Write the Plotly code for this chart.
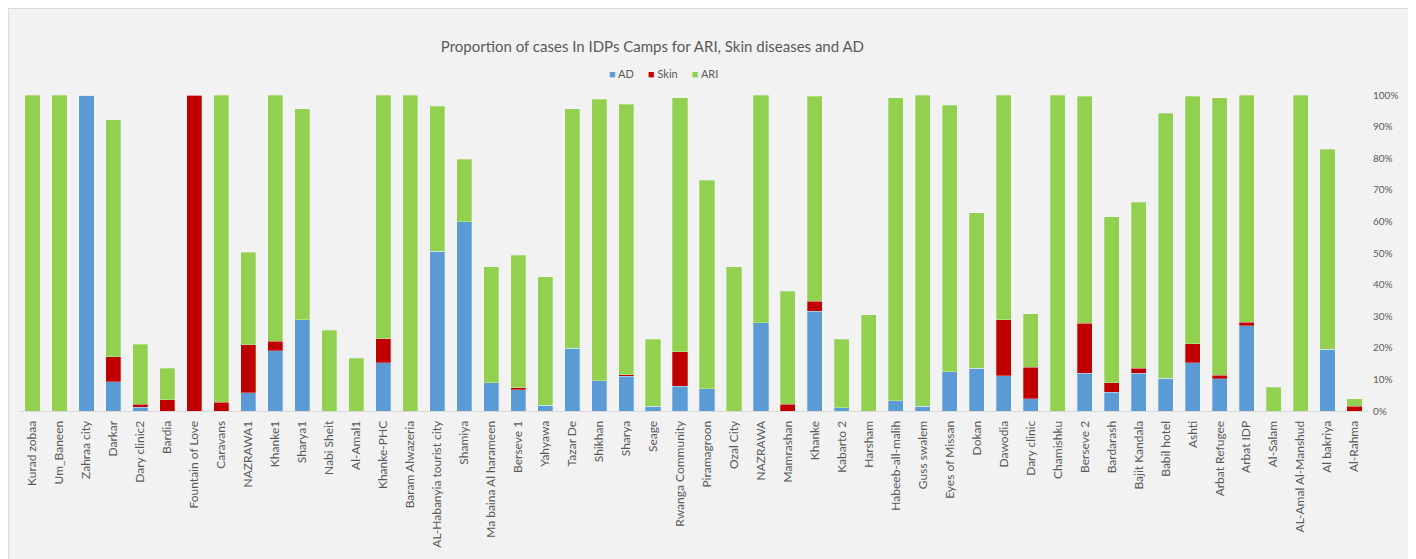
import plotly.graph_objects as go

# camps, in the order they appear on the x axis
camps = [
    "Kurad zobaa", "Um_Baneen", "Zahraa city", "Darkar", "Dary clinic2", "Bardia",
    "Fountain of Love", "Caravans", "NAZRAWA1", "Khanke1", "Sharya1", "Nabi Sheit",
    "Al-Amal1", "Khanke-PHC", "Baram Alwazeria", "AL-Habanyia tourist city", "Shamiya",
    "Ma baina Al harameen", "Berseve 1", "Yahyawa", "Tazar De", "Shikhan", "Sharya",
    "Seage", "Rwanga Community", "Piramagroon", "Ozal City", "NAZRAWA", "Mamrashan",
    "Khanke", "Kabarto 2", "Harsham", "Habeeb-all-malih", "Guss swalem",
    "Eyes of Missan", "Dokan", "Dawodia", "Dary clinic", "Chamishku", "Berseve 2",
    "Bardarash", "Bajit Kandala", "Babil hotel", "Ashti", "Arbat Refugee", "Arbat IDP",
    "Al-Salam", "AL-Amal Al-Manshud", "Al bakriya", "Al-Rahma",
]

# % of cases
ad = [
    0, 0, 100, 9.3, 1.2, 0, 0, 0, 5.7, 19.1, 28.8, 0, 0, 15.2, 0, 50.6, 59.9,
    8.9, 6.8, 1.9, 19.9, 9.5, 11.0, 1.5, 7.8, 7.1, 0, 28.0, 0, 31.5, 1.1, 0, 3.2, 1.5,
    12.4, 13.6, 11.1, 3.9, 0, 12.0, 6.0, 12.0, 10.3, 15.2, 10.2, 27.0, 0, 0, 19.5, 0,
]
skin = [
    0, 0, 0, 7.8, 1.0, 3.6, 100, 2.8, 15.2, 2.9, 0, 0, 0, 7.6, 0, 0, 0,
    0, 0.5, 0, 0, 0, 0.5, 0, 11.0, 0, 0, 0, 2.2, 3.2, 0, 0, 0, 0,
    0, 0, 17.7, 10.0, 0, 15.7, 2.9, 1.6, 0, 6.1, 1.1, 1.1, 0, 0, 0, 1.5,
]
ari = [
    100, 100, 0, 75.0, 19.0, 9.9, 0, 97.2, 29.3, 78.0, 66.8, 25.5, 16.7, 77.2, 100, 45.8, 19.8,
    36.8, 42.0, 40.6, 75.7, 89.2, 85.5, 21.2, 80.4, 65.9, 45.7, 72.0, 35.7, 64.9, 21.6, 30.4, 96.0, 98.5,
    84.3, 49.1, 71.2, 16.9, 100, 71.9, 52.5, 52.5, 83.9, 78.3, 87.9, 71.9, 7.5, 100, 63.4, 2.4,
]

series = [("AD", ad, "#5B9BD5"), ("Skin", skin, "#C00000"), ("ARI", ari, "#92D050")]

FONT = "Lato"
GREY = "#595959"
BG = "#F2F2F2"

fig = go.Figure()
for name, vals, col in series:
    fig.add_trace(go.Bar(
        x=camps, y=vals, name=name, showlegend=False,
        marker=dict(color=col, line=dict(color="rgba(255,255,255,0.45)", width=0.6)),
    ))

# compact Excel-like legend, small squares close together
legend_txt = "     ".join(
    "<span style='color:%s'>■</span> %s" % (col, name) for name, _, col in series
)
fig.add_annotation(text=legend_txt, xref="paper", yref="paper", x=0.4774, y=1.0696,
                   xanchor="center", yanchor="middle", showarrow=False,
                   font=dict(size=11, color=GREY, family=FONT))

# chart area box (Excel style)
fig.add_shape(type="rect", xref="paper", yref="paper",
              x0=-0.0078, x1=1.0304, y0=-0.49, y1=1.2737,
              fillcolor=BG, line=dict(color="#D9D9D9", width=1), layer="below")

fig.update_layout(
    width=1408, height=551,
    barmode="stack", bargap=0.44,
    paper_bgcolor="white", plot_bgcolor=BG,
    margin=dict(l=11, r=48, t=87, b=148),
    font=dict(family=FONT, color=GREY),
    title=dict(text="Proportion of cases In IDPs Camps for ARI, Skin diseases and AD",
               x=0.4577, xanchor="center", y=0.929, yanchor="middle",
               font=dict(size=15, color=GREY, family=FONT)),
    showlegend=False,
)
fig.update_xaxes(tickangle=-90, tickfont=dict(size=12, color=GREY),
                 showline=True, linecolor="#D9D9D9", linewidth=1,
                 showgrid=False, ticks="", ticklabelstandoff=4)
fig.update_yaxes(side="right", range=[0, 100], dtick=10, ticksuffix="%",
                 showgrid=False, zeroline=False, showline=False,
                 tickfont=dict(size=10, color=GREY), ticklabelstandoff=4)

fig.write_html("out.html")
